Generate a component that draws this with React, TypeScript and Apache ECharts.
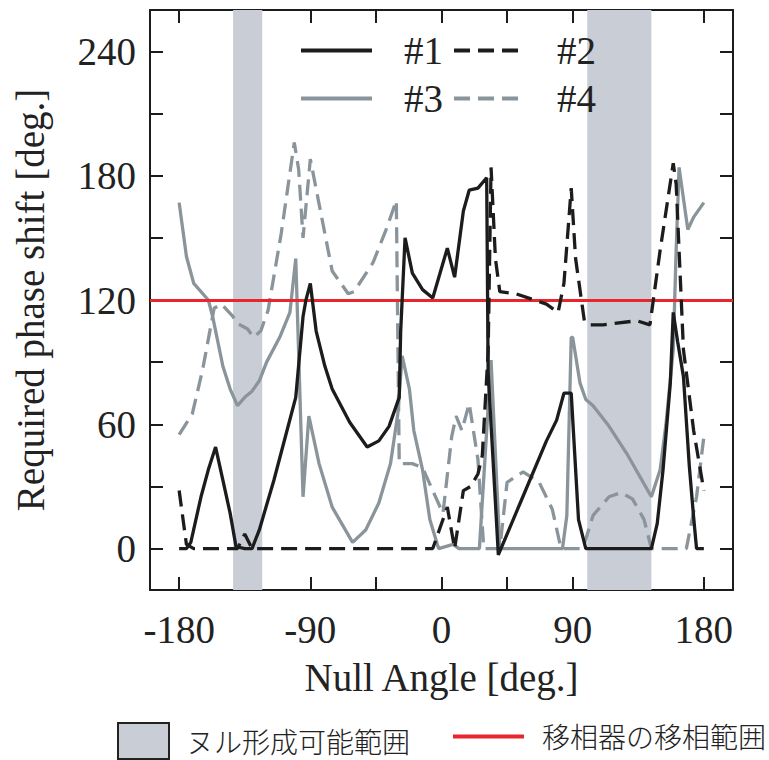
import React, { useEffect, useRef } from "react";
import * as echarts from "echarts";

// ---- Data (Null angle [deg], required phase shift [deg]) ----
const series1: [number, number][] = [
  [-180, 0], [-175, 0], [-172, 3], [-165, 25], [-160, 38], [-155, 49], [-150, 33], [-145, 17],
  [-141, 1], [-135, 0], [-130, 0], [-125, 9], [-115, 33], [-106, 57], [-100, 73], [-95, 112],
  [-93, 120], [-90, 128], [-86, 105], [-80, 88], [-75, 77], [-63, 61], [-51, 49], [-43, 52],
  [-36, 59], [-29, 73], [-28, 105], [-25, 150], [-20, 133], [-13, 125], [-6, 121], [4, 145],
  [9, 131], [15, 163], [19, 173], [25, 174], [31, 179], [32, 85], [39, -3], [54, 22], [72, 52],
  [79, 62], [84, 75], [89, 75], [94, 14], [99, 0], [144, 0], [148, 12], [152, 38], [157, 80],
  [159, 114], [162, 100], [166, 83], [170, 40], [173, 15], [175, 0], [180, 0],
];

const series2: [number, number][] = [
  [-180, 28], [-175, 2], [-170, 0], [-140, 0], [-135, 7], [-130, 0], [-6, 0], [4, 20], [9, 0],
  [15, 28], [20, 30], [25, 36], [28, 45], [32, 95], [34, 184], [37, 140], [40, 124], [51, 123],
  [72, 118], [80, 114], [84, 128], [89, 174], [92, 140], [98, 110], [102, 108], [111, 108],
  [134, 110], [143, 108], [150, 144], [159, 186], [161, 176], [166, 96], [173, 57], [180, 28],
];

const series3: [number, number][] = [
  [-180, 167], [-175, 141], [-170, 128], [-160, 120], [-157, 112], [-150, 88], [-145, 77],
  [-140, 69], [-135, 73], [-130, 76], [-125, 81], [-120, 90], [-111, 102], [-104, 114],
  [-100, 140], [-95, 25], [-91, 64], [-84, 41], [-75, 20], [-61, 3], [-52, 9], [-43, 22],
  [-35, 41], [-30, 65], [-27, 93], [-22, 77], [-19, 57], [-13, 38], [-8, 14], [-2, 0], [8, 2],
  [12, 0], [26, 0], [34, 91], [40, 0], [83, 0], [86, 16], [89, 102], [90, 102], [95, 80],
  [99, 72], [104, 69], [115, 59], [127, 46], [144, 25], [150, 38], [154, 60], [159, 96],
  [161, 144], [163, 184], [169, 154], [173, 160], [180, 167],
];

const series4: [number, number][] = [
  [-180, 55], [-171, 65], [-164, 86], [-156, 116], [-151, 118], [-143, 112], [-141, 109],
  [-133, 106], [-129, 102], [-124, 105], [-119, 115], [-110, 152], [-101, 196], [-98, 183],
  [-95, 150], [-90, 188], [-75, 134], [-64, 123], [-60, 124], [-47, 138], [-38, 154],
  [-31, 168], [-29, 41], [-20, 41], [-13, 39], [1, 17], [7, 54], [10, 64], [14, 57], [19, 70],
  [25, 43], [29, 0], [40, 0], [45, 32], [56, 37], [67, 32], [76, 19], [82, 0], [97, 0],
  [104, 16], [115, 25], [123, 27], [131, 24], [139, 14], [144, 0], [168, 0], [175, 25], [180, 54],
];

const nullBands: [number, number][] = [[-143, -123], [100, 144]];
const phaseShifterRange = 120;

const xTickValues = [-180, -135, -90, -45, 0, 45, 90, 135, 180];
const xLabelValues = [-180, -90, 0, 90, 180];
const yTickValues = [0, 30, 60, 90, 120, 150, 180, 210, 240];
const yLabelValues = [0, 60, 120, 180, 240];

const seriesNames = ["#1", "#2", "#3", "#4"];
const bandName = "ヌル形成可能範囲";
const lineName = "移相器の移相範囲";

const BLACK = "#1c1c1c";
const GRAY = "#8a949b";
const BAND = "#c9cdd6";
const RED = "#e8262b";
const FONT = "'Liberation Serif', 'Times New Roman', serif";
const JFONT = "'Noto Sans CJK JP', sans-serif";

export default function App() {
  const ref = useRef<HTMLDivElement>(null);

  useEffect(() => {
    if (!ref.current) return;
    const chart = echarts.init(ref.current, null, { renderer: "svg" });

    const axisLine = { show: true, onZero: false, lineStyle: { color: BLACK, width: 2 } };
    const tick = (vals: number[]) => ({
      show: true,
      inside: true,
      length: 13,
      customValues: vals,
      lineStyle: { color: BLACK, width: 2 },
    });
    const labelStyle = { fontFamily: FONT, fontSize: 39, color: "#222" };

    const dashed = [16, 8];
    const LW = 3.3;

    chart.setOption({
      animation: false,
      backgroundColor: "#fff",
      grid: { left: 150, right: 36, top: 10, bottom: 170 },
      xAxis: [
        {
          type: "value",
          min: -200,
          max: 200,
          position: "bottom",
          axisLine,
          axisTick: tick(xTickValues),
          axisLabel: { ...labelStyle, margin: 20, customValues: xLabelValues },
          splitLine: { show: false },
          name: "Null Angle [deg.]",
          nameLocation: "middle",
          nameGap: 68,
          nameTextStyle: { fontFamily: FONT, fontSize: 39, color: "#222" },
        },
        {
          type: "value",
          min: -200,
          max: 200,
          position: "top",
          axisLine,
          axisTick: tick(xTickValues),
          axisLabel: { show: false },
          splitLine: { show: false },
        },
      ],
      yAxis: [
        {
          type: "value",
          min: -20,
          max: 260,
          position: "left",
          axisLine,
          axisTick: tick(yTickValues),
          axisLabel: { ...labelStyle, margin: 14, customValues: yLabelValues },
          splitLine: { show: false },
          name: "Required phase shift [deg.]",
          nameLocation: "middle",
          nameGap: 100,
          nameRotate: 90,
          nameTextStyle: { fontFamily: FONT, fontSize: 39, color: "#222" },
        },
        {
          type: "value",
          min: -20,
          max: 260,
          position: "right",
          axisLine,
          axisTick: tick(yTickValues),
          axisLabel: { show: false },
          splitLine: { show: false },
        },
      ],
      legend: [
        {
          data: seriesNames,
          left: 299,
          top: 31,
          width: 300,
          padding: 0,
          itemGap: 9,
          itemWidth: 71,
          itemHeight: 20,
          itemStyle: { opacity: 0 },
          lineStyle: { width: 4 },
          textStyle: { fontFamily: FONT, fontSize: 39, color: "#222", padding: [0, 0, 0, 27] },
        },
        {
          data: [
            {
              name: bandName,
              icon: "rect",
              itemStyle: { color: BAND, borderColor: "#222", borderWidth: 2 },
            },
          ],
          left: 117,
          top: 722,
          padding: 0,
          itemWidth: 51,
          itemHeight: 36,
          textStyle: {
            fontFamily: JFONT,
            fontSize: 28,
            fontWeight: 300,
            color: "#222",
            padding: [0, 0, 0, 12],
          },
        },
        {
          data: [lineName],
          left: 451,
          top: 722,
          padding: 0,
          itemWidth: 71,
          itemHeight: 36,
          itemStyle: { opacity: 0 },
          lineStyle: { width: 4 },
          textStyle: {
            fontFamily: JFONT,
            fontSize: 28,
            fontWeight: 300,
            color: "#222",
            padding: [0, 0, 0, 13],
          },
        },
      ],
      series: [
        {
          name: bandName,
          type: "line",
          data: [],
          z: 1,
          color: BAND,
          symbol: "none",
          markArea: {
            silent: true,
            itemStyle: { color: BAND },
            data: nullBands.map(([a, b]) => [{ xAxis: a }, { xAxis: b }]),
          },
        },
        {
          name: seriesNames[0],
          type: "line",
          data: series1,
          symbol: "none",
          color: BLACK,
          lineStyle: { color: BLACK, width: LW },
          z: 5,
        },
        {
          name: seriesNames[1],
          type: "line",
          data: series2,
          symbol: "none",
          color: BLACK,
          lineStyle: { color: BLACK, width: LW, type: dashed },
          z: 5,
        },
        {
          name: seriesNames[2],
          type: "line",
          data: series3,
          symbol: "none",
          color: GRAY,
          lineStyle: { color: GRAY, width: LW },
          z: 4,
        },
        {
          name: seriesNames[3],
          type: "line",
          data: series4,
          symbol: "none",
          color: GRAY,
          lineStyle: { color: GRAY, width: LW, type: dashed },
          z: 4,
        },
        {
          name: lineName,
          type: "line",
          data: [],
          symbol: "none",
          color: RED,
          lineStyle: { color: RED, width: 3 },
          z: 6,
          markLine: {
            silent: true,
            symbol: "none",
            label: { show: false },
            lineStyle: { color: RED, width: 3, type: "solid" },
            data: [{ yAxis: phaseShifterRange }],
          },
        },
      ],
    });

    return () => chart.dispose();
  }, []);

  return (
    <div
      ref={ref}
      style={{ position: "absolute", left: 0, top: 0, width: 769, height: 760 }}
    />
  );
}
